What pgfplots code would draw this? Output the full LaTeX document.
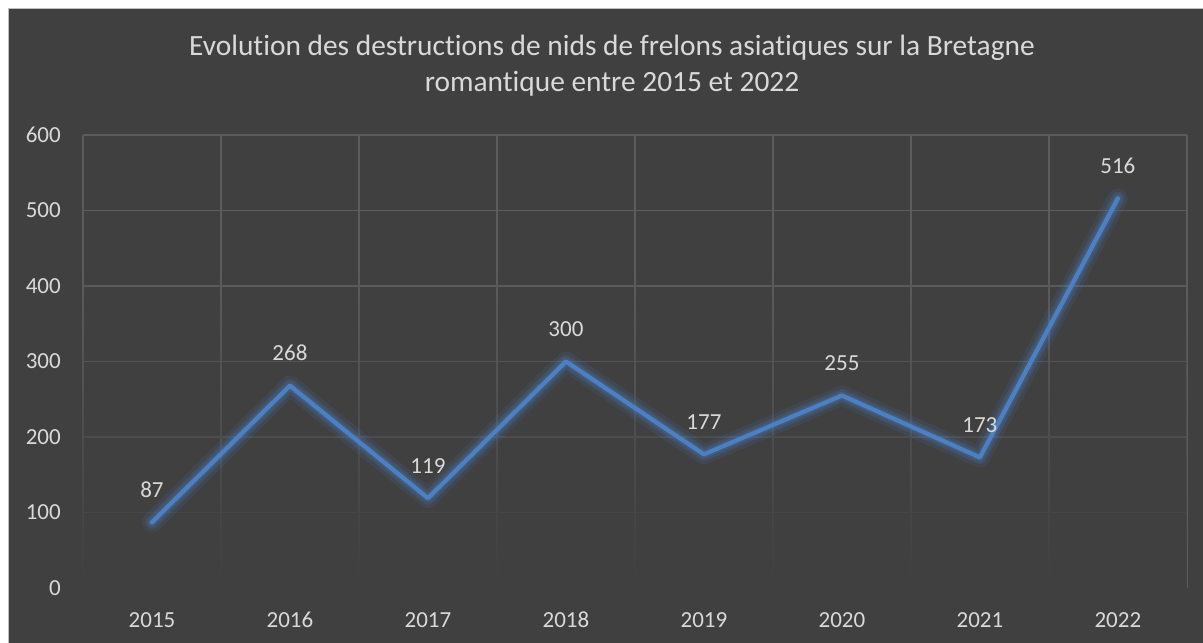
\documentclass[border=0pt]{standalone}
\usepackage{pgfplots}
\pgfplotsset{compat=1.18}
\usepackage{fontspec}
\setmainfont[Ligatures={NoCommon,NoRare,NoContextual}]{Carlito}
\usetikzlibrary{fadings}
\definecolor{bg}{RGB}{64,64,64}
\definecolor{gridc}{RGB}{92,92,92}
\definecolor{txt}{RGB}{217,217,217}
\definecolor{lineblue}{RGB}{76,128,196}
\tikzfading[name=fadebot, top color=transparent!100, bottom color=transparent!0]
\begin{document}
\begin{tikzpicture}
\useasboundingbox (0pt,0pt) rectangle (1203pt,643pt);
\fill[white] (0pt,0pt) rectangle (1203pt,643pt);
\fill[bg] (8pt,0pt) rectangle (1203pt,634pt);
\draw[black!25, line width=1pt] (8pt,0pt) -- (8pt,634pt) -- (1203pt,634pt);
\node[txt, font=\fontsize{29.4}{36}\selectfont, anchor=base, inner sep=0pt] at (612pt,587pt)
  {Evolution des destructions de nids de frelons asiatiques sur la Bretagne};
\node[txt, font=\fontsize{29.4}{36}\selectfont, anchor=base, inner sep=0pt] at (612pt,551pt)
  {romantique entre 2015 et 2022};
\begin{axis}[
  at={(83pt,55pt)}, anchor=south west,
  scale only axis, width=1104pt, height=453pt,
  xmin=0, xmax=8, ymin=0, ymax=600,
  axis line style={draw=none},
  xtick={0.5,1.5,...,7.5},
  xticklabels={2015,2016,2017,2018,2019,2020,2021,2022},
  minor xtick={0,1,...,8},
  ytick={0,100,...,600},
  xminorgrids=true, ymajorgrids=true,
  xmajorgrids=false,
  grid style={gridc, line width=1.3pt},
  minor grid style={gridc, line width=1.3pt},
  major tick length=0pt, minor tick length=0pt,
  tick label style={txt, font=\fontsize{23}{26}\selectfont, inner sep=0pt, text height=14.5pt, text depth=0pt},
  /pgf/number format/assume math mode=true,
  yticklabel style={anchor=east, xshift=-22pt},
  xticklabel style={anchor=north, yshift=-24.75pt},
  clip=false,
]
\fill[bg, path fading=fadebot] (axis cs:-0.02,-3) rectangle (axis cs:8.02,420);
\addplot[lineblue, line width=20pt, opacity=0.12, line join=round, line cap=round] coordinates
 {(0.5,87) (1.5,268) (2.5,119) (3.5,300) (4.5,177) (5.5,255) (6.5,173) (7.5,516)};
\addplot[lineblue, line width=13pt, opacity=0.18, line join=round, line cap=round] coordinates
 {(0.5,87) (1.5,268) (2.5,119) (3.5,300) (4.5,177) (5.5,255) (6.5,173) (7.5,516)};
\addplot[lineblue, line width=8pt, opacity=0.22, line join=round, line cap=round] coordinates
 {(0.5,87) (1.5,268) (2.5,119) (3.5,300) (4.5,177) (5.5,255) (6.5,173) (7.5,516)};
\addplot[lineblue, line width=4.2pt, line join=round, line cap=round,
  nodes near coords,
  every node near coord/.append style={txt, font=\fontsize{23}{26}\selectfont, anchor=south, yshift=23pt, inner sep=0pt, text height=14.5pt, text depth=0pt}]
 coordinates
 {(0.5,87) (1.5,268) (2.5,119) (3.5,300) (4.5,177) (5.5,255) (6.5,173) (7.5,516)};
\end{axis}
\end{tikzpicture}
\end{document}
